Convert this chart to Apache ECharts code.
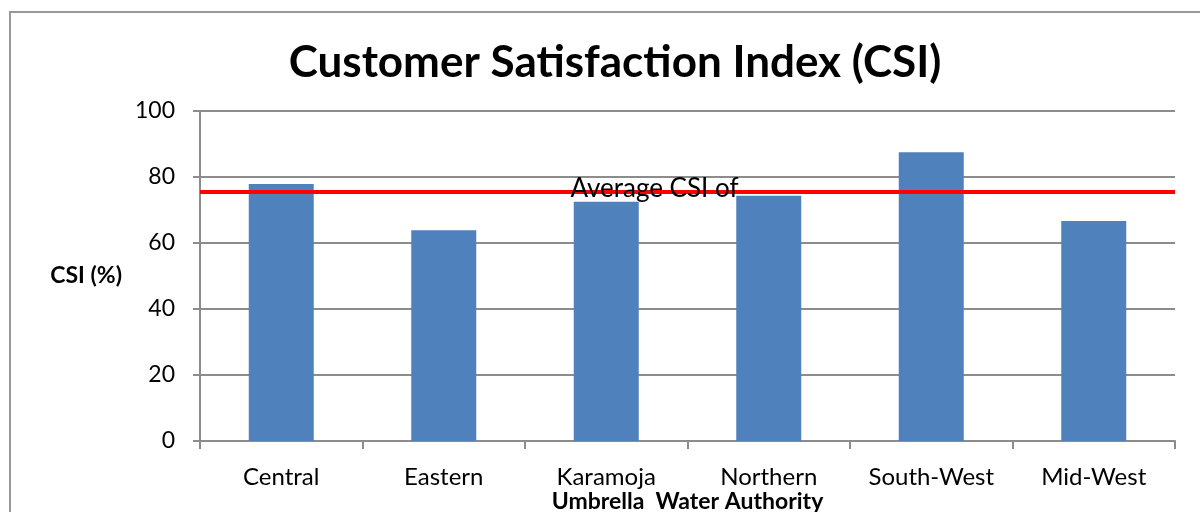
<!DOCTYPE html>
<html>
<head>
<meta charset="utf-8">
<script src="https://cdn.jsdelivr.net/npm/echarts@6/dist/echarts.min.js"></script>
<style>
  html, body { margin: 0; padding: 0; background: #fff; }
  #chart { width: 1200px; height: 512px; }
</style>
</head>
<body>
<div id="chart"></div>
<script>
// 各地区的客户满意度
var regions = ['Central', 'Eastern', 'Karamoja', 'Northern', 'South-West', 'Mid-West'];
var csiValues = [77.9, 63.9, 72.5, 74.3, 87.5, 66.7];
var averageCsi = 75.4;
var yTicks = [0, 20, 40, 60, 80, 100];

var font = 'Lato, "Open Sans", sans-serif';
var gray = '#8c8c8c';

var myChart = echarts.init(document.getElementById('chart'));
myChart.setOption({
    animation: false,
    title: {
        text: 'Customer Satisfaction Index (CSI)',
        left: 610,
        textAlign: 'center',
        top: 36,
        textStyle: { fontFamily: font, fontWeight: 'bold', fontSize: 44, color: '#000' }
    },
    graphic: [{
        type: 'rect',
        shape: { x: 10, y: 12, width: 1220, height: 600 },
        style: { fill: 'none', stroke: '#999', lineWidth: 2 },
        z: -1
    }],
    grid: { left: 200, top: 111, right: 25, bottom: 71, containLabel: false, outerBoundsMode: 'none' },
    xAxis: {
        type: 'category',
        data: regions,
        name: 'Umbrella  Water Authority',
        nameLocation: 'middle',
        nameGap: 49,
        nameMoveOverlap: false,
        nameTextStyle: { fontFamily: font, fontWeight: 'bold', fontSize: 23, color: '#000' },
        axisLine: { lineStyle: { color: gray, width: 2 } },
        axisTick: { show: true, length: 8, lineStyle: { color: gray, width: 2 } },
        axisLabel: { interval: 0, margin: 24, fontFamily: font, fontSize: 24, color: '#000' }
    },
    yAxis: {
        type: 'value',
        min: yTicks[0],
        max: yTicks[yTicks.length - 1],
        interval: 20,
        name: 'CSI (%)',
        nameLocation: 'middle',
        nameRotate: 0,
        nameGap: 78,
        nameMoveOverlap: false,
        nameTextStyle: { fontFamily: font, fontWeight: 'bold', fontSize: 23, color: '#000' },
        axisLine: { show: true, lineStyle: { color: gray, width: 2 } },
        axisTick: { show: true, length: 7, lineStyle: { color: gray, width: 2 } },
        splitLine: { lineStyle: { color: gray, width: 2 } },
        axisLabel: { margin: 25, fontFamily: font, fontSize: 23, color: '#000' }
    },
    series: [{
        name: 'CSI',
        type: 'bar',
        data: csiValues,
        barCategoryGap: '60%',
        itemStyle: { color: '#4f81bd' },
        markLine: {
            silent: true,
            symbol: 'none',
            lineStyle: { color: '#ff0000', width: 4, type: 'solid' },
            label: {
                formatter: 'Average CSI of',
                position: 'middle',
                distance: 0,
                offset: [-33, 9],
                fontFamily: font,
                fontSize: 26,
                color: '#000'
            },
            data: [{ yAxis: averageCsi }]
        }
    }]
});
</script>
</body>
</html>
